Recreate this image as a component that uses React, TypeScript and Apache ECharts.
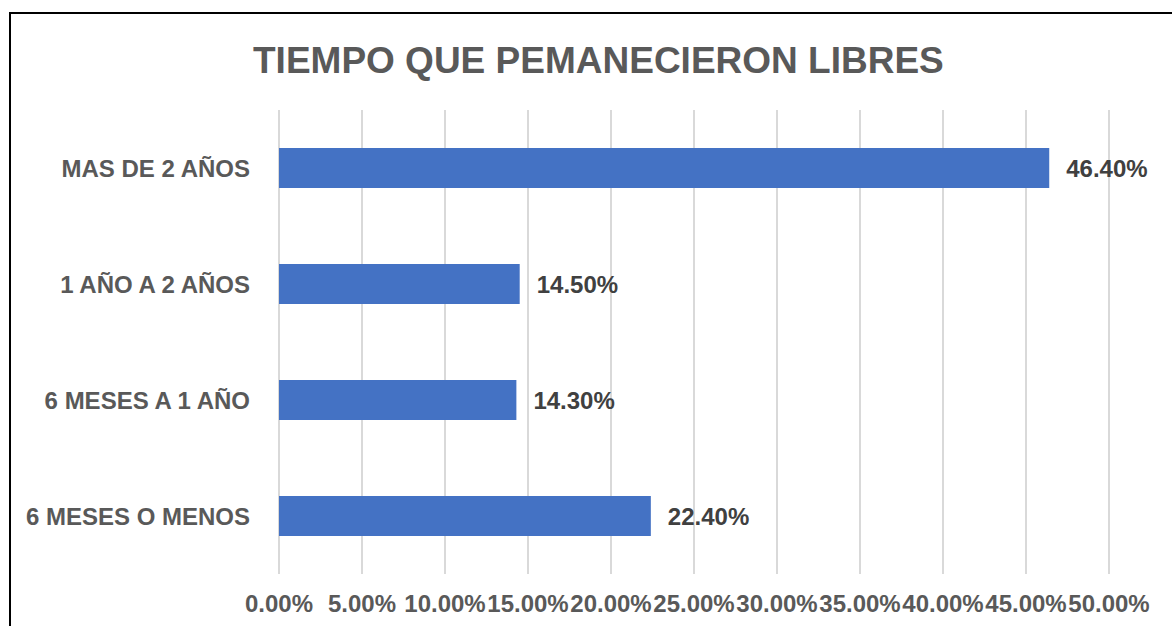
import React, { useEffect, useRef } from "react";
import * as echarts from "echarts";

const categories = ["MAS DE 2 AÑOS", "1 AÑO A 2 AÑOS", "6 MESES A 1 AÑO", "6 MESES O MENOS"];
const values = [46.4, 14.5, 14.3, 22.4];
const titleText = "TIEMPO QUE PEMANECIERON LIBRES";

const FONT = "'Liberation Sans', Arial, sans-serif";

export default function App() {
  const ref = useRef<HTMLDivElement>(null);
  useEffect(() => {
    if (!ref.current) return;
    const chart = echarts.init(ref.current, undefined, { renderer: "svg" });
    chart.setOption({
      animation: false,
      backgroundColor: "#ffffff",
      textStyle: { fontFamily: FONT },
      title: {
        text: titleText,
        left: 248,
        top: 37,
        textStyle: { fontFamily: FONT, fontSize: 37, fontWeight: "bold", color: "#595959" },
      },
      graphic: [
        {
          type: "rect",
          silent: true,
          shape: { x: 10, y: 13, width: 1400, height: 900 },
          style: { fill: "none", stroke: "#000000", lineWidth: 2 },
        },
      ],
      grid: { left: 279, right: 63, top: 110, bottom: 52, containLabel: false },
      xAxis: {
        type: "value",
        min: 0,
        max: 50,
        interval: 5,
        axisLine: { show: false },
        axisTick: { show: false },
        splitLine: { show: true, lineStyle: { color: "#d9d9d9", width: 2 } },
        axisLabel: {
          margin: 17,
          fontFamily: FONT,
          fontSize: 24,
          fontWeight: "bold",
          color: "#595959",
          formatter: (v: number) => v.toFixed(2) + "%",
        },
      },
      yAxis: {
        type: "category",
        inverse: true,
        data: categories,
        axisLine: { show: false },
        axisTick: { show: false },
        axisLabel: {
          margin: 29,
          fontFamily: FONT,
          fontSize: 24,
          fontWeight: "bold",
          color: "#595959",
        },
      },
      series: [
        {
          type: "bar",
          data: values,
          barWidth: 40,
          itemStyle: { color: "#4472C4" },
          label: {
            show: true,
            position: "right",
            distance: 17,
            fontFamily: FONT,
            fontSize: 24,
            fontWeight: "bold",
            color: "#404040",
            formatter: (p: any) => Number(p.value).toFixed(2) + "%",
          },
        },
      ],
    });
    return () => chart.dispose();
  }, []);
  return (
    <div
      ref={ref}
      style={{ position: "fixed", left: 0, top: 0, width: 1172, height: 626 }}
    />
  );
}
